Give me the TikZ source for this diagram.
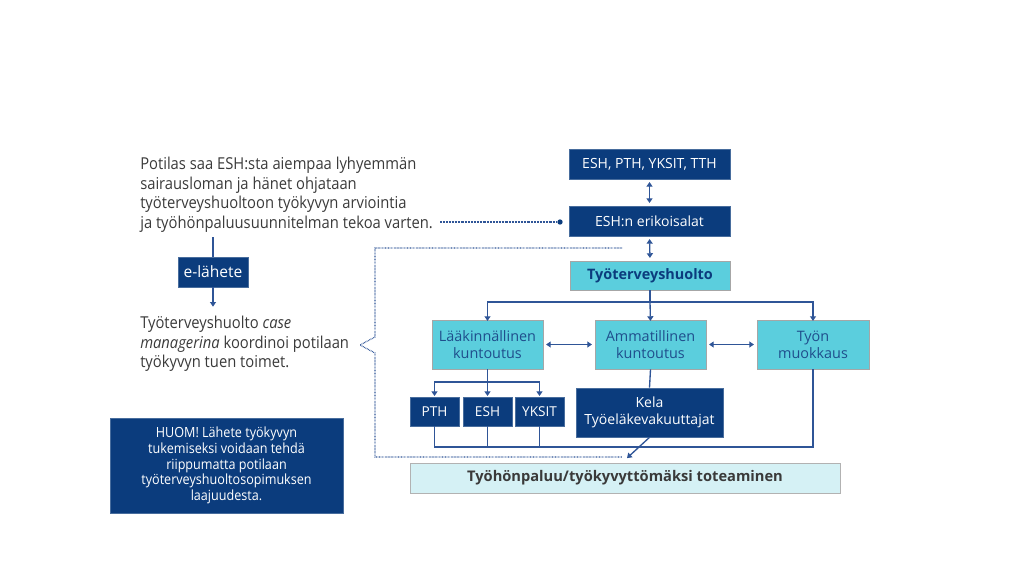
\documentclass[tikz,border=0pt]{standalone}
\usepackage{fontspec}
\setmainfont{Open Sans}[FakeStretch=0.9]
\newfontfamily\boxfam{Open Sans}
\usetikzlibrary{arrows.meta}
\definecolor{dblue}{HTML}{0B3C7D}
\definecolor{cyanbox}{HTML}{5BCEDD}
\definecolor{lineblue}{HTML}{2F5597}
\definecolor{txtgray}{HTML}{3A3A3A}
\definecolor{pale}{HTML}{D5F1F5}
\definecolor{cyantext}{HTML}{1F4E8C}
\tikzset{
  sz/.style 2 args={minimum width={#1*0.75pt},minimum height={#2*0.75pt}},
  boxfont/.style={font=\boxfam\fontsize{10.5}{12.5}\selectfont},
  dbox/.style={fill=dblue, draw=dblue!75!white, line width=0.5pt, text=white, inner sep=0pt, align=center, boxfont},
  cbox/.style={fill=cyanbox, draw=gray!70, line width=0.6pt, text=cyantext, inner sep=0pt, align=center, font=\boxfam\fontsize{10.8}{13}\selectfont},
  pbox/.style={fill=pale, draw=gray!60, line width=0.6pt, text=txtgray, inner sep=0pt, align=center, font=\boxfam\fontsize{11}{13}\selectfont\bfseries},
  conn/.style={draw=lineblue, line width=1pt},
  tip/.tip={Triangle[length=3.5pt,width=4.5pt]},
  arr/.style={conn, -tip, shorten >=2pt},
  darr/.style={conn, tip-tip, shorten >=2pt, shorten <=2pt},
  dotl/.style={draw=lineblue, line width=0.9pt, dash pattern=on 0.5pt off 0.6pt},
  ltext/.style={anchor=north west, inner sep=0pt, align=left, text=txtgray, font=\fontsize{12.3}{14.7}\selectfont},
}
\begin{document}
\begin{tikzpicture}[x=0.75pt,y=-0.75pt]
\useasboundingbox (0,0) rectangle (1024,576);

% left texts
\node[ltext] (ptext) at (140,157) {Potilas saa ESH:sta aiempaa lyhyemmän\\sairausloman ja hänet ohjataan\\työterveyshuoltoon työkyvyn arviointia\\ja työhönpaluusuunnitelman tekoa varten.};
\node[dbox, sz={70}{30}, font=\boxfam\fontsize{11.7}{13}\selectfont] (elah) at (213,272) {e-lähete};
\node[ltext] (ctext) at (140,316) {Työterveyshuolto \textit{case}\\\textit{managerina} koordinoi potilaan\\työkyvyn tuen toimet.};
\node[dbox, sz={233}{95}, font=\fontsize{10.5}{11.7}\selectfont] (huom) at (226.5,465.5) {HUOM! Lähete työkyvyn\\tukemiseksi voidaan tehdä\\riippumatta potilaan\\työterveyshuoltosopimuksen\\laajuudesta.};

\coordinate (t1) at (213,237);
\draw[conn] (t1) -- (elah.north);
\draw[arr] (elah.south) -- ++(0,22) coordinate (t2);

% right flow
\node[dbox, sz={161}{30}] (top) at (649.5,164) {ESH, PTH, YKSIT, TTH};
\node[dbox, sz={161}{30}] (esh) at (649.5,221) {ESH:n erikoisalat};
\node[cbox, sz={160}{29}, font=\boxfam\fontsize{10.8}{13}\selectfont\bfseries, text=dblue] (tth) at (650,275.5) {Työterveyshuolto};
\node[cbox, sz={111}{49}] (laak) at (487.5,344.5) {Lääkinnällinen\\kuntoutus};
\node[cbox, sz={111}{49}] (amm) at (650.5,344.5) {Ammatillinen\\kuntoutus};
\node[cbox, sz={112}{49}] (tyon) at (813,344.5) {Työn\\muokkaus};
\node[dbox, sz={49}{29}, font=\boxfam\fontsize{10.2}{12}\selectfont] (pth) at (434.5,411.5) {PTH};
\node[dbox, sz={49}{29}, font=\boxfam\fontsize{10.2}{12}\selectfont] (eshb) at (487.5,411.5) {ESH};
\node[dbox, sz={49}{29}, font=\boxfam\fontsize{10.2}{12}\selectfont] (yksit) at (539.5,411.5) {YKSIT};
\node[dbox, sz={147}{49}, font=\boxfam\fontsize{10.5}{13}\selectfont] (kela) at (649.5,412.5) {Kela\\Työeläkevakuuttajat};
\node[pbox, sz={430}{30}] (final) at (625,478) {Työhönpaluu/työkyvyttömäksi toteaminen};

\draw[darr] (top.south) -- (esh.north);
\draw[darr] (esh.south) -- (tth.north);

\coordinate (j1) at (650,302);
\draw[conn] (tth.south) -- (j1);
\draw[arr] (j1) -| ([yshift=-3pt]laak.north);
\draw[arr] (j1) -- ([yshift=-3pt]amm.north);
\draw[arr] (j1) -| ([yshift=-3pt]tyon.north);

\draw[darr] (laak.east) -- (amm.west);
\draw[darr] (amm.east) -- (tyon.west);

\coordinate (j2) at (487.5,382);
\draw[conn] (laak.south) -- (j2);
\draw[arr] (j2) -| ([yshift=-1.5pt]pth.north);
\draw[arr] (j2) -- ([yshift=-1.5pt]eshb.north);
\draw[arr] (j2) -| ([yshift=-1.5pt]yksit.north);

\draw[conn] (amm.south) -- (kela.north);

\coordinate (j3) at (650,447);
\draw[conn] (pth.south) |- (j3) -| (tyon.south);
\draw[conn] (eshb.south) -- (eshb.south |- j3);
\draw[conn] (yksit.south) -- (yksit.south |- j3);
\draw[arr] (kela.south) -- ([yshift=2pt]final.north);

% dotted connectors
\coordinate (d0) at (440,222);
\node[circle, fill=dblue, inner sep=0pt, minimum size=4pt] (dot) at (560,222) {};
\draw[dotl] (d0) -- (dot);
\draw[dotl] (622,248) -- (375,248) -- (375,337) -- (360,345) -- (375,353) -- (375,457) -- (622,457);
\end{tikzpicture}
\end{document}
